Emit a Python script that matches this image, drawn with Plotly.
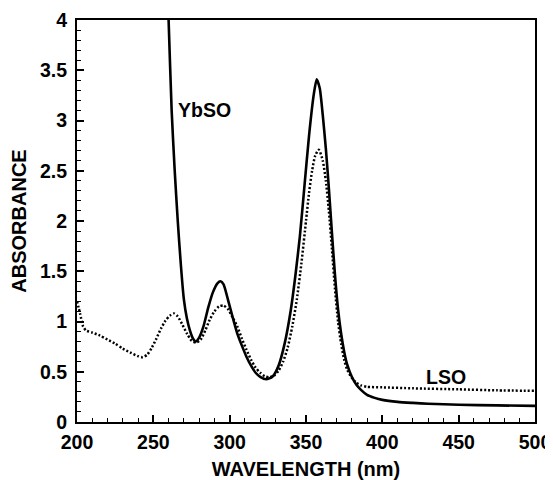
import plotly.graph_objects as go

# ---- data ----
ybso_wl = [258, 260, 262, 264, 266, 268, 270, 272, 274, 276, 277.6, 280, 283, 286, 289, 292,
           294, 296, 299, 302, 305, 308, 311, 314, 317, 320, 324, 328, 332, 336, 340, 343,
           346, 349, 352, 355, 357, 359, 361, 363, 365, 367, 369, 371, 373, 375, 377, 380,
           383, 386, 390, 395, 400, 410, 420, 430, 450, 475, 500]
ybso_abs = [4.9, 4.0, 3.1, 2.5, 2.0, 1.57, 1.22, 1.03, 0.91, 0.83, 0.80, 0.84, 0.96, 1.14, 1.29, 1.38,
            1.40, 1.37, 1.21, 1.04, 0.88, 0.76, 0.65, 0.56, 0.49, 0.45, 0.425, 0.45, 0.56, 0.78, 1.11, 1.45,
            1.85, 2.35, 2.85, 3.25, 3.41, 3.32, 3.05, 2.72, 2.32, 1.88, 1.46, 1.12, 0.88, 0.70, 0.57, 0.45,
            0.37, 0.32, 0.27, 0.24, 0.22, 0.20, 0.19, 0.182, 0.172, 0.165, 0.16]

lso_wl = [200, 202, 204, 206, 210, 215, 220, 225, 230, 235, 240, 243, 246, 249, 252, 255, 258,
          261, 263.5, 266, 269, 272, 275, 278, 281, 284, 287, 290, 293, 296, 299, 302, 305, 308,
          311, 314, 317, 320, 323, 326, 329, 332, 335, 338, 341, 344, 347, 350, 352, 354, 356,
          358.4, 361, 363, 365, 367, 369, 371, 373, 375, 377, 380, 383, 386, 390, 400, 420, 450,
          475, 500]
lso_abs = [1.2, 1.08, 0.95, 0.91, 0.89, 0.86, 0.82, 0.78, 0.73, 0.69, 0.655, 0.645, 0.67, 0.74, 0.83, 0.93, 1.01,
           1.06, 1.08, 1.05, 0.97, 0.88, 0.81, 0.79, 0.82, 0.91, 1.02, 1.10, 1.15, 1.16, 1.12, 1.04, 0.95, 0.83,
           0.72, 0.62, 0.54, 0.49, 0.455, 0.445, 0.46, 0.51, 0.60, 0.74, 0.95, 1.22, 1.58, 2.0, 2.28, 2.5, 2.65,
           2.71, 2.6, 2.4, 2.1, 1.72, 1.32, 1.0, 0.78, 0.62, 0.52, 0.44, 0.39, 0.365, 0.35, 0.345, 0.335, 0.325,
           0.315, 0.31]

x_ticks = [200, 250, 300, 350, 400, 450, 500]
x_ticktext = ["200", "250", "300", "350", "400", "450", "500"]
y_ticks = [0, 0.5, 1, 1.5, 2, 2.5, 3, 3.5, 4]
y_ticktext = ["0", "0.5", "1", "1.5", "2", "2.5", "3", "3.5", "4"]

labels = ["YbSO", "LSO"]
label_x = [283.5, 442]
label_y = [3.10, 0.45]

FONT = "Liberation Sans, Arial, Helvetica, sans-serif"
FS_TICK = 19.5
FS_TITLE = 20
FS_LABEL = 19.5

fig = go.Figure()
fig.add_trace(go.Scatter(x=lso_wl, y=lso_abs, mode="lines",
                         line=dict(color="black", width=2.5, dash="2px,2px", shape="spline", smoothing=0.6),
                         showlegend=False))
fig.add_trace(go.Scatter(x=ybso_wl, y=ybso_abs, mode="lines",
                         line=dict(color="black", width=2.6, shape="spline", smoothing=0.6),
                         showlegend=False))

for t, x, y in zip(labels, label_x, label_y):
    fig.add_annotation(x=x, y=y, text=t, showarrow=False,
                       font=dict(family=FONT, size=FS_LABEL, color="black", weight="bold"))

axis_common = dict(showgrid=False, zeroline=False, showline=True, linecolor="black", linewidth=2,
                   mirror=True, ticks="inside", tickcolor="black", tickwidth=1.5, ticklen=7,
                   tickfont=dict(family=FONT, size=FS_TICK, color="black", weight="bold"),
                   ticklabeloverflow="allow")

fig.update_xaxes(range=[200, 500], tickvals=x_ticks, ticktext=x_ticktext, ticklabelstandoff=2,
                 minor=dict(dtick=10, ticks="inside", ticklen=4, tickcolor="black", tickwidth=1),
                 title=dict(text="WAVELENGTH (nm)", standoff=16,
                            font=dict(family=FONT, size=FS_TITLE, color="black", weight="bold")),
                 **axis_common)
fig.update_yaxes(range=[0, 4], tickvals=y_ticks, ticktext=y_ticktext, ticklabelstandoff=4,
                 minor=dict(dtick=0.1, ticks="inside", ticklen=4, tickcolor="black", tickwidth=1),
                 title=dict(text="ABSORBANCE", standoff=12,
                            font=dict(family=FONT, size=FS_TITLE, color="black", weight="bold")),
                 **axis_common)

# the page body adds an 8 px offset, so the figure is 8 px smaller with left/top margins reduced by 8
fig.update_layout(width=545, height=472, margin=dict(l=69, r=18, t=12, b=58, autoexpand=False),
                  plot_bgcolor="white", paper_bgcolor="white")

fig.write_html("out.html")
